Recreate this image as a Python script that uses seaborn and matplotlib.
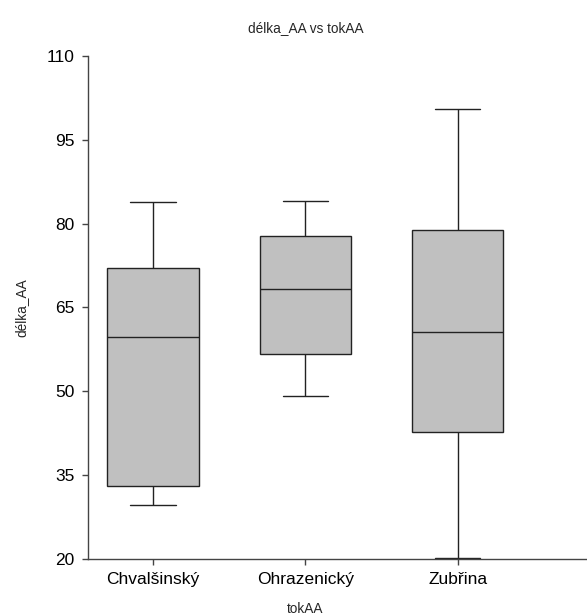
import numpy as np
import pandas as pd
import matplotlib
matplotlib.use("Agg")
import matplotlib.pyplot as plt
import seaborn as sns

# five-number summaries (min, Q1, median, Q3, max)
streams = ["Chvalšinský", "Ohrazenický", "Zubřina"]
chvalsinsky = [29.6, 33.0, 59.7, 72.1, 83.8]
ohrazenicky = [49.2, 56.6, 68.3, 77.7, 84.0]
zubrina = [20.2, 42.6, 60.5, 78.8, 100.5]
y_ticks = [20, 35, 50, 65, 80, 95, 110]

df = pd.DataFrame({
    "tokAA": np.repeat(streams, 5),
    "délka_AA": chvalsinsky + ohrazenicky + zubrina,
})

sns.set_style("ticks")
plt.rcParams["font.family"] = ["Liberation Sans", "DejaVu Sans"]

fig = plt.figure(figsize=(5.87, 6.15), dpi=100)
ax = fig.add_axes([0.1494, 0.0915, 0.8506, 0.8175])

sns.boxplot(data=df, x="tokAA", y="délka_AA", order=streams, ax=ax,
            color="#c0c0c0", saturation=1, linecolor="#222222", linewidth=1,
            width=0.6, whis=(0, 100))

ax.set_ylim(20, 110)
ax.set_xlim(-0.43, 2.85)
ax.set_yticks(y_ticks)
ax.tick_params(axis="both", labelsize=12.5, length=4.5, width=1, color="#444444",
               labelcolor="black", pad=5)
for s in ["left", "bottom"]:
    ax.spines[s].set_color("#444444")
    ax.spines[s].set_linewidth(1)
sns.despine(ax=ax)

cx = (1 - (-0.43)) / (2.85 + 0.43)
ax.set_title("délka_AA vs tokAA", fontsize=9.8, x=cx, y=1.0, pad=17)
ax.set_xlabel("tokAA", fontsize=9.8)
ax.set_ylabel("délka_AA", fontsize=9.8)
ax.xaxis.set_label_coords(cx, -0.086)
ax.yaxis.set_label_coords(-0.118, 0.5)

fig.savefig("out.png", dpi=100)
